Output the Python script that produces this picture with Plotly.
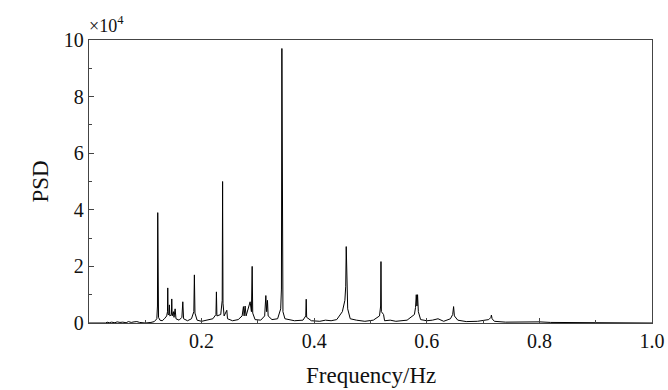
import plotly.graph_objects as go

# Frequency (Hz) and PSD (x10^4)
freq = [0.000, 0.030, 0.032, 0.036, 0.040, 0.046, 0.050, 0.055, 0.060, 0.066, 0.070, 0.075,
        0.080, 0.085, 0.090, 0.100, 0.110, 0.116, 0.1205, 0.1216, 0.1221, 0.1226, 0.1235,
        0.1260, 0.1300, 0.1340, 0.1380, 0.1394, 0.1399, 0.1405, 0.1422, 0.1428, 0.1436,
        0.1464, 0.1470, 0.1477, 0.1500, 0.1510, 0.1530, 0.1545, 0.1600, 0.1650, 0.1666,
        0.1680, 0.1750, 0.1820, 0.1862, 0.1872, 0.1882, 0.1920, 0.2000, 0.2100, 0.2200,
        0.2255, 0.2263, 0.2272, 0.2340, 0.2366, 0.2373, 0.2380, 0.2400, 0.2448, 0.2460,
        0.2550, 0.2650, 0.2720, 0.2743, 0.2755, 0.2773, 0.2790, 0.2862, 0.2885, 0.2898,
        0.2908, 0.2950, 0.3050, 0.3120, 0.3141, 0.3155, 0.3170, 0.3182, 0.3250, 0.3350,
        0.3405, 0.3418, 0.3426, 0.3434, 0.3445, 0.3480, 0.3650, 0.3800, 0.3850, 0.3858,
        0.3866, 0.3950, 0.4100, 0.4200, 0.4300, 0.4400, 0.4500, 0.4545, 0.4560, 0.4569,
        0.4578, 0.4595, 0.4640, 0.4750, 0.4900, 0.5050, 0.5160, 0.5180, 0.5186, 0.5193,
        0.5232, 0.5250, 0.5350, 0.5450, 0.5650, 0.5780, 0.5800, 0.5813, 0.5825, 0.5836,
        0.5850, 0.5890, 0.6000, 0.6100, 0.6199, 0.6300, 0.6420, 0.6460, 0.6476, 0.6490,
        0.6550, 0.6700, 0.6900, 0.7100, 0.7140, 0.7147, 0.7160, 0.7200, 0.7400, 0.7600,
        0.7800, 0.8000, 0.8200, 0.8500, 0.8800, 0.9200, 0.9600, 1.0000]
psd = [0.00, 0.00, 0.03, 0.01, 0.03, 0.01, 0.04, 0.02, 0.03, 0.01, 0.05, 0.02,
       0.04, 0.05, 0.02, 0.00, 0.02, 0.05, 0.15, 0.60, 3.90, 0.70, 0.20,
       0.10, 0.08, 0.15, 0.25, 0.40, 1.24, 0.30, 0.30, 0.64, 0.25,
       0.30, 0.85, 0.25, 0.40, 0.20, 0.50, 0.15, 0.10, 0.20, 0.75,
       0.15, 0.08, 0.15, 0.40, 1.70, 0.35, 0.10, 0.06, 0.10, 0.15,
       0.30, 1.10, 0.25, 0.30, 0.80, 5.00, 0.70, 0.25, 0.45, 0.15,
       0.08, 0.12, 0.25, 0.58, 0.25, 0.60, 0.25, 0.75, 0.40, 2.00,
       0.35, 0.12, 0.10, 0.25, 0.97, 0.40, 0.80, 0.25, 0.12, 0.15,
       0.50, 1.20, 9.70, 1.00, 0.40, 0.15, 0.08, 0.10, 0.25, 0.84,
       0.20, 0.08, 0.06, 0.10, 0.08, 0.12, 0.40, 0.80, 1.30, 2.70,
       1.20, 0.50, 0.15, 0.10, 0.06, 0.10, 0.25, 0.60, 2.17, 0.40,
       0.30, 0.08, 0.10, 0.06, 0.10, 0.30, 0.55, 1.00, 0.60, 1.00,
       0.40, 0.12, 0.08, 0.10, 0.15, 0.06, 0.15, 0.30, 0.58, 0.25,
       0.10, 0.05, 0.06, 0.12, 0.20, 0.28, 0.15, 0.06, 0.03, 0.04,
       0.03, 0.04, 0.02, 0.02, 0.01, 0.01, 0.01, 0.00]

x_ticks = [0.2, 0.4, 0.6, 0.8, 1.0]
x_labels = ["0.2", "0.4", "0.6", "0.8", "1.0"]
y_ticks = [0, 2, 4, 6, 8, 10]
y_labels = ["0", "2", "4", "6", "8", "10"]

FONT = "Liberation Serif, Times New Roman, serif"

fig = go.Figure()
fig.add_trace(go.Scatter(x=freq, y=psd, mode="lines",
                         line=dict(color="#000000", width=1), showlegend=False,
                         hoverinfo="skip"))

axis_common = dict(showgrid=False, zeroline=False, showline=True, linecolor="#444444",
                   linewidth=1.3, mirror=True, ticks="inside", ticklen=5, tickwidth=1,
                   tickcolor="#444444", automargin=False,
                   tickfont=dict(family=FONT, size=20, color="#111111"))

fig.update_xaxes(range=[0, 1.0], tickvals=x_ticks, ticktext=x_labels,
                 minor=dict(ticks="inside", ticklen=3, dtick=0.1, tick0=0, tickcolor="#444444"),
                 **axis_common)
fig.update_yaxes(range=[0, 10], tickvals=y_ticks, ticktext=y_labels,
                 minor=dict(ticks="inside", ticklen=3, dtick=1, tick0=0, tickcolor="#444444"),
                 **axis_common)

title_font = dict(family=FONT, size=23, color="#111111")
fig.add_annotation(x=0.5, y=0, xref="paper", yref="paper", xanchor="center", yanchor="middle",
                   yshift=-52, showarrow=False, text="Frequency/Hz", font=title_font)
fig.add_annotation(x=0, y=0.5, xref="paper", yref="paper", xanchor="center", yanchor="middle",
                   xshift=-49, showarrow=False, text="PSD", textangle=-90, font=title_font)
fig.add_annotation(x=0, y=1, xref="paper", yref="paper", xanchor="left", yanchor="bottom",
                   xshift=-2, yshift=2, showarrow=False,
                   text="×10<sup>4</sup>", font=dict(family=FONT, size=18, color="#111111"))

fig.update_layout(width=668, height=390, margin=dict(l=89, r=16, t=40, b=67),
                  plot_bgcolor="white", paper_bgcolor="white")

fig.write_html("out.html")
